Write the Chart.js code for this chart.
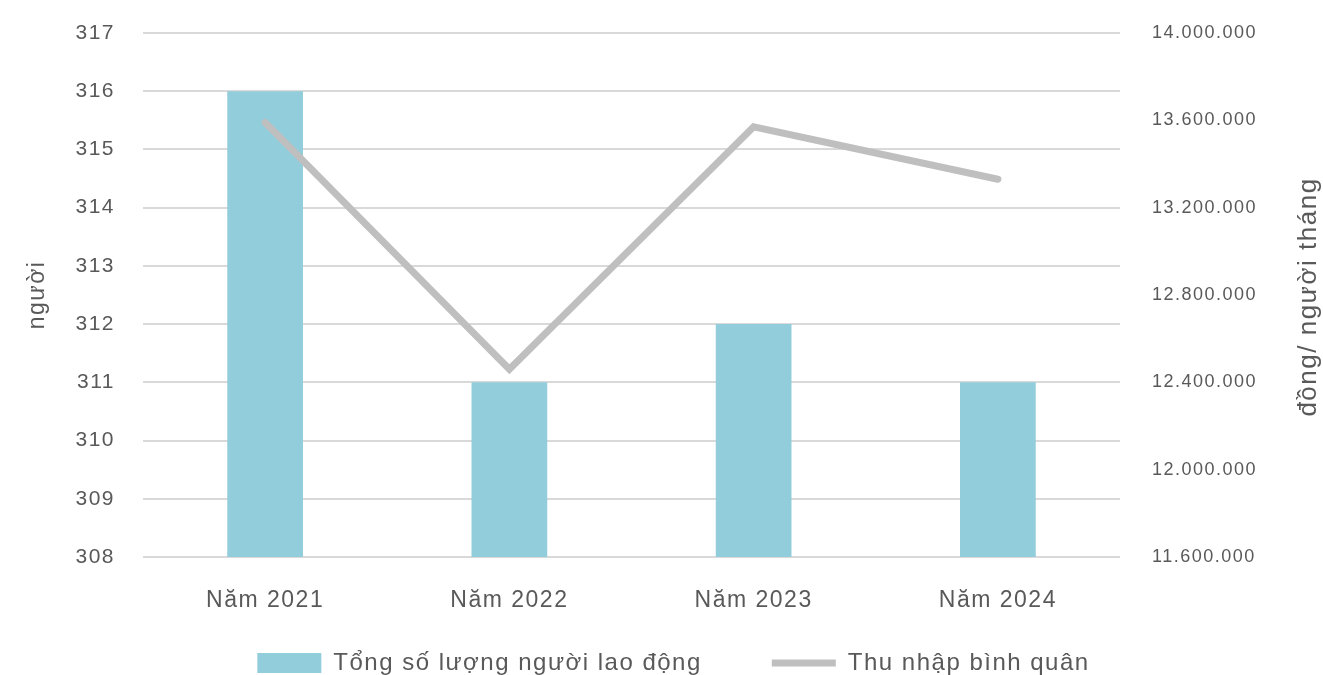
<!DOCTYPE html>
<html lang="vi">
<head>
    <meta charset="UTF-8">
    <title>Lao động và thu nhập</title>
    <script src="https://cdn.jsdelivr.net/npm/chart.js"></script>
    <style>
        body { margin: 0; overflow: hidden; background: #fff; }
        #wrap { width: 1323px; height: 717px; }
    </style>
</head>
<body>
    <div id="wrap"><canvas id="laborChart"></canvas></div>
    <script>
        const years = ['Năm 2021', 'Năm 2022', 'Năm 2023', 'Năm 2024'];
        const workers = [316, 311, 312, 311];
        const avgIncome = [13590000, 12460000, 13570000, 13330000];
        const leftTicks = [308, 317, 1];
        const rightTicks = [11600000, 14000000, 400000];

        const textColor = '#595959';
        const fontFamily = '"Liberation Sans", Arial, sans-serif';

        function dots(v) {
            return String(v).replace(/\B(?=(\d{3})+(?!\d))/g, '.');
        }

        // spread letters a little, like the original; nudge the legend
        const spacing = {
            id: 'spacing',
            beforeLayout(chart) { chart.ctx.letterSpacing = '1.5px'; },
            beforeDraw(chart) { chart.ctx.letterSpacing = '1.5px'; },
            afterLayout(chart) {
                const lg = chart.legend;
                lg.left += 12;
                lg.right += 12;
                lg.top -= 32;
                lg.bottom -= 32;
            }
        };

        // right title reads bottom-to-top
        const rightTitle = {
            id: 'rightTitle',
            afterDraw(chart) {
                const ctx = chart.ctx;
                const area = chart.chartArea;
                ctx.save();
                ctx.fillStyle = textColor;
                ctx.font = '26px ' + fontFamily;
                ctx.textAlign = 'center';
                ctx.textBaseline = 'middle';
                ctx.translate(1309, (area.top + area.bottom) / 2 + 2);
                ctx.rotate(-Math.PI / 2);
                ctx.fillText('đồng/ người tháng', 0, 0);
                ctx.restore();
            }
        };

        function noEdgePad(scale) {
            scale.paddingTop = 0;
            scale.paddingBottom = 0;
        }

        const ctx = document.getElementById('laborChart').getContext('2d');
        new Chart(ctx, {
            data: {
                labels: years,
                datasets: [{
                    type: 'line',
                    label: 'Thu nhập bình quân',
                    data: avgIncome,
                    yAxisID: 'y1',
                    borderColor: '#BFBFBF',
                    backgroundColor: '#BFBFBF',
                    borderWidth: 7,
                    borderCapStyle: 'round',
                    borderJoinStyle: 'miter',
                    pointRadius: 0,
                    tension: 0,
                    order: 1
                }, {
                    type: 'bar',
                    label: 'Tổng số lượng người lao động',
                    data: workers,
                    yAxisID: 'y',
                    backgroundColor: '#92CDDC',
                    borderWidth: 0,
                    categoryPercentage: 1,
                    barPercentage: 0.31,
                    order: 2
                }]
            },
            options: {
                responsive: true,
                maintainAspectRatio: false,
                animation: false,
                layout: { padding: { top: 33, left: 0, right: 0, bottom: 0 } },
                plugins: {
                    tooltip: { enabled: false },
                    legend: {
                        position: 'bottom',
                        reverse: true,
                        labels: {
                            color: textColor,
                            font: { family: fontFamily, size: 24 },
                            usePointStyle: true,
                            pointStyleWidth: 64,
                            boxHeight: 20,
                            padding: 70,
                            generateLabels(chart) {
                                const items = Chart.defaults.plugins.legend.labels.generateLabels(chart);
                                items.forEach(it => {
                                    const ds = chart.data.datasets[it.datasetIndex];
                                    it.pointStyle = ds.type === 'line' ? 'line' : 'rect';
                                });
                                return items;
                            }
                        }
                    }
                },
                scales: {
                    x: {
                        grid: { display: false },
                        border: { display: false },
                        ticks: {
                            color: textColor,
                            font: { family: fontFamily, size: 23 },
                            padding: 22
                        },
                        afterFit(scale) { scale.height = 56; }
                    },
                    y: {
                        position: 'left',
                        min: leftTicks[0],
                        max: leftTicks[1],
                        ticks: {
                            stepSize: leftTicks[2],
                            color: textColor,
                            font: { family: fontFamily, size: 21 },
                            padding: 28
                        },
                        grid: { color: '#D9D9D9', lineWidth: 2, drawTicks: false },
                        border: { display: false },
                        title: {
                            display: true,
                            text: 'người',
                            color: textColor,
                            font: { family: fontFamily, size: 23 },
                            padding: { top: 24, bottom: 0 }
                        },
                        afterFit(scale) { scale.width = 143; noEdgePad(scale); }
                    },
                    y1: {
                        position: 'right',
                        min: rightTicks[0],
                        max: rightTicks[1],
                        ticks: {
                            stepSize: rightTicks[2],
                            color: textColor,
                            font: { family: fontFamily, size: 18 },
                            padding: 32,
                            callback: v => dots(v)
                        },
                        grid: { display: false, drawTicks: false },
                        border: { display: false },
                        afterFit(scale) { scale.width = 203; noEdgePad(scale); }
                    }
                }
            },
            plugins: [spacing, rightTitle]
        });
    </script>
</body>
</html>
